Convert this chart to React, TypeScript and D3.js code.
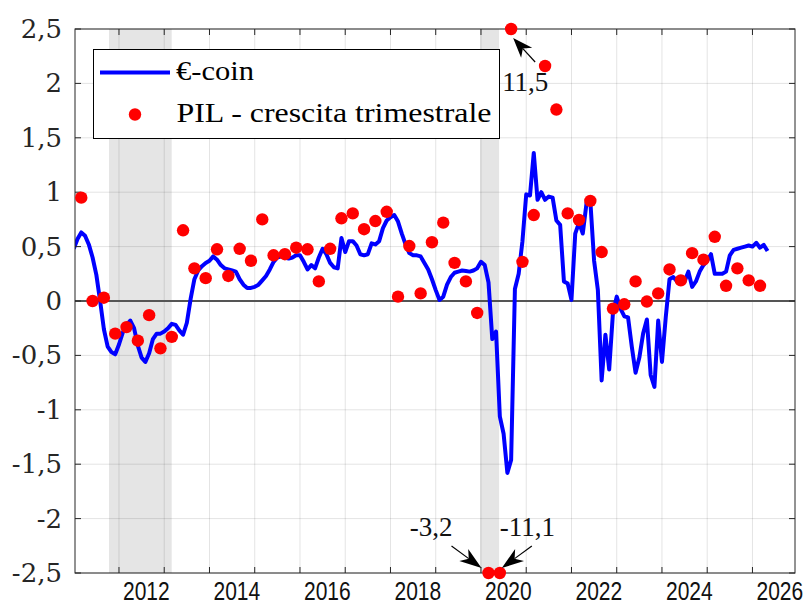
import { line, range, scaleLinear, select } from 'd3';
import { useEffect, useRef } from 'react';

// €-coin, monthly, first value = Jan 2011
const ecoinStart = 2011;
const ecoin = [
  0.48, 0.57, 0.63, 0.6, 0.52, 0.4, 0.24, 0.0, -0.26, -0.42,
  -0.47, -0.49, -0.4, -0.29, -0.22, -0.18, -0.25, -0.41, -0.52, -0.56,
  -0.48, -0.35, -0.3, -0.3, -0.28, -0.25, -0.21, -0.22, -0.27, -0.31,
  -0.2, 0.02, 0.2, 0.28, 0.32, 0.35, 0.37, 0.41, 0.38, 0.33,
  0.3, 0.29, 0.28, 0.27, 0.2, 0.15, 0.12, 0.12, 0.13, 0.15,
  0.19, 0.23, 0.29, 0.36, 0.4, 0.41, 0.4, 0.39, 0.4, 0.42,
  0.42, 0.36, 0.29, 0.33, 0.3, 0.4, 0.48, 0.43, 0.35, 0.31,
  0.3, 0.58, 0.45, 0.55, 0.55, 0.51, 0.43, 0.42, 0.43, 0.53,
  0.52, 0.55, 0.67, 0.74, 0.77, 0.79, 0.73, 0.62, 0.52, 0.44,
  0.42, 0.42, 0.41, 0.35, 0.29, 0.2, 0.1, 0.01, 0.04, 0.15,
  0.22, 0.26, 0.27, 0.28, 0.275, 0.27, 0.28, 0.3, 0.36, 0.33,
  0.17, -0.35, -0.28, -1.06, -1.22, -1.58, -1.46, 0.11, 0.25, 0.55,
  0.98, 0.97, 1.36, 0.93, 1.0, 0.93, 0.96, 0.95, 0.74, 0.7,
  0.18, 0.16, 0.01, 0.62, 0.72, 0.62, 0.9, 0.92, 0.37, 0.1,
  -0.73, -0.31, -0.63, -0.11, 0.04, -0.07, -0.14, -0.15, -0.42, -0.66,
  -0.52, -0.3, -0.17, -0.68, -0.79, -0.18, -0.56, -0.15, 0.2, 0.22,
  0.18, 0.16, 0.18, 0.27, 0.13, 0.18, 0.27, 0.33, 0.37, 0.43,
  0.25, 0.25, 0.25, 0.27, 0.42, 0.47, 0.48, 0.49, 0.5, 0.51,
  0.5, 0.535, 0.49, 0.515, 0.46,
];

// PIL q/q growth, quarterly, first value = 2011 Q1 (plotted at 3rd month)
const pilStart = 2011 + 2 / 12;
const pil = [
  0.95, 0.0, 0.03, -0.3,
  -0.24, -0.365, -0.13, -0.435,
  -0.33, 0.65, 0.3, 0.21,
  0.475, 0.23, 0.48, 0.37,
  0.75, 0.42, 0.43, 0.49,
  0.475, 0.18, 0.48, 0.76,
  0.805, 0.66, 0.735, 0.82,
  0.04, 0.505, 0.07, 0.54,
  0.72, 0.35, 0.18, -0.11,
  -3.2, -11.1, 11.5, 0.36,
  0.79, 2.16, 1.76, 0.805,
  0.745, 0.92, 0.45, -0.07,
  -0.03, 0.18, -0.005, 0.07,
  0.29, 0.19, 0.44, 0.38,
  0.59, 0.14, 0.3, 0.19,
  0.14,
];

const recessions = [
  [2011.78, 2013.165],
  [2019.98, 2020.4],
];

const yTicks = [-2.5, -2, -1.5, -1, -0.5, 0, 0.5, 1, 1.5, 2, 2.5];
const xTicks = range(2012, 2027);
const xLabels = [2012, 2014, 2016, 2018, 2020, 2022, 2024, 2026];

// out-of-range points that get a label
const outliers = [
  { index: 36, label: '-3,2' },
  { index: 37, label: '-11,1' },
  { index: 38, label: '11,5' },
];

const fmt = (v: number) => String(v).replace('.', ',');

export default function App() {
  const svgRef = useRef<SVGSVGElement>(null);

  useEffect(() => {
    if (!svgRef.current) return;
    const svg = select(svgRef.current);

    const left = 75;
    const right = 795;
    const top = 29;
    const bottom = 573;

    const x = scaleLinear().domain([2011.028, 2026.94]).range([left, right]);
    const y = scaleLinear().domain([-2.5, 2.5]).range([bottom, top]);
    const yc = (v: number) => y(Math.max(-2.5, Math.min(2.5, v)));

    const ink = '#262626';

    svg
      .append('defs')
      .append('clipPath')
      .attr('id', 'plot-clip')
      .append('rect')
      .attr('x', left)
      .attr('y', top)
      .attr('width', right - left)
      .attr('height', bottom - top);

    svg.append('rect').attr('width', 806).attr('height', 605).attr('fill', '#fff');

    // recession shading
    svg
      .append('g')
      .selectAll('rect')
      .data(recessions)
      .join('rect')
      .attr('x', (d) => x(d[0]))
      .attr('width', (d) => x(d[1]) - x(d[0]))
      .attr('y', top)
      .attr('height', bottom - top)
      .attr('fill', '#e5e5e5');

    // grid
    const grid = svg.append('g').attr('stroke', '#000').attr('stroke-opacity', 0.11);
    grid
      .selectAll('line.v')
      .data(xTicks)
      .join('line')
      .attr('class', 'v')
      .attr('x1', (d) => x(d))
      .attr('x2', (d) => x(d))
      .attr('y1', top)
      .attr('y2', bottom);
    grid
      .selectAll('line.h')
      .data(yTicks)
      .join('line')
      .attr('class', 'h')
      .attr('x1', left)
      .attr('x2', right)
      .attr('y1', (d) => y(d))
      .attr('y2', (d) => y(d));

    // zero line
    svg
      .append('line')
      .attr('x1', left)
      .attr('x2', right)
      .attr('y1', y(0))
      .attr('y2', y(0))
      .attr('stroke', '#555')
      .attr('stroke-width', 2);

    // €-coin line
    const ecoinLine = line<number>()
      .x((_, i) => x(ecoinStart + i / 12))
      .y((d) => y(d));

    svg
      .append('path')
      .datum(ecoin)
      .attr('clip-path', 'url(#plot-clip)')
      .attr('fill', 'none')
      .attr('stroke', '#0000ff')
      .attr('stroke-width', 4)
      .attr('stroke-linejoin', 'round')
      .attr('d', ecoinLine);

    // axes box + ticks
    const axes = svg.append('g').attr('stroke', ink).attr('stroke-width', 1);
    axes
      .append('rect')
      .attr('x', left)
      .attr('y', top)
      .attr('width', right - left)
      .attr('height', bottom - top)
      .attr('fill', 'none');
    yTicks.forEach((t) => {
      axes.append('line').attr('x1', left).attr('x2', left + 6).attr('y1', y(t)).attr('y2', y(t));
      axes.append('line').attr('x1', right - 6).attr('x2', right).attr('y1', y(t)).attr('y2', y(t));
    });
    xTicks.forEach((t) => {
      axes.append('line').attr('x1', x(t)).attr('x2', x(t)).attr('y1', top).attr('y2', top + 6);
      axes.append('line').attr('x1', x(t)).attr('x2', x(t)).attr('y1', bottom - 6).attr('y2', bottom);
    });

    // PIL dots
    svg
      .append('g')
      .selectAll('circle')
      .data(pil)
      .join('circle')
      .attr('cx', (_, i) => x(pilStart + i / 4))
      .attr('cy', (d) => yc(d))
      .attr('r', 6.2)
      .attr('fill', '#ff0000');

    // tick labels
    svg
      .append('g')
      .selectAll('text')
      .data(yTicks)
      .join('text')
      .attr('x', left - 13)
      .attr('y', (d) => y(d) + 9)
      .attr('text-anchor', 'end')
      .attr('font-family', '"DejaVu Serif", serif')
      .attr('font-size', 26)
      .attr('fill', ink)
      .text((d) => fmt(d));

    // year labels: narrow sans, stretched vertically like the original
    svg
      .append('g')
      .selectAll('text')
      .data(xLabels)
      .join('text')
      .attr('transform', (d) => `translate(${x(d) + 4},600) scale(1,1.25)`)
      .attr('font-family', '"Liberation Sans", Arial, sans-serif')
      .attr('font-size', 21)
      .attr('fill', '#111')
      .text((d) => String(d));

    // legend
    const lg = svg.append('g');
    lg.append('rect')
      .attr('x', 93.5)
      .attr('y', 49.5)
      .attr('width', 406)
      .attr('height', 89)
      .attr('fill', '#fff')
      .attr('stroke', '#000')
      .attr('stroke-width', 1);
    lg.append('line')
      .attr('x1', 100)
      .attr('x2', 170)
      .attr('y1', 72.5)
      .attr('y2', 72.5)
      .attr('stroke', '#0000ff')
      .attr('stroke-width', 4);
    lg.append('circle').attr('cx', 135).attr('cy', 114.5).attr('r', 6.2).attr('fill', '#ff0000');
    lg.append('text')
      .attr('x', 176)
      .attr('y', 79.5)
      .attr('font-family', '"Liberation Serif", serif')
      .attr('font-size', 27)
      .attr('textLength', 78)
      .attr('lengthAdjust', 'spacingAndGlyphs')
      .attr('fill', '#000')
      .text('€-coin');
    lg.append('text')
      .attr('x', 176.5)
      .attr('y', 121.7)
      .attr('font-family', '"Liberation Serif", serif')
      .attr('font-size', 27)
      .attr('textLength', 315)
      .attr('lengthAdjust', 'spacingAndGlyphs')
      .attr('fill', '#000')
      .text('PIL - crescita trimestrale');

    // annotations for out-of-range points
    const arrow = (tx: number, ty: number, sx: number, sy: number, hl: number, hw: number) => {
      const len = Math.hypot(tx - sx, ty - sy);
      const ux = (tx - sx) / len;
      const uy = (ty - sy) / len;
      const nx = -uy;
      const ny = ux;
      const bx = tx - ux * hl;
      const by = ty - uy * hl;
      const kx = tx - ux * hl * 0.72;
      const ky = ty - uy * hl * 0.72;
      const g = svg.append('g');
      g.append('line')
        .attr('x1', sx)
        .attr('y1', sy)
        .attr('x2', kx)
        .attr('y2', ky)
        .attr('stroke', '#000')
        .attr('stroke-width', 1.2);
      g.append('path')
        .attr(
          'd',
          `M${tx},${ty}L${bx + (nx * hw) / 2},${by + (ny * hw) / 2}L${kx},${ky}L${bx - (nx * hw) / 2},${by - (ny * hw) / 2}Z`,
        )
        .attr('fill', '#000');
    };

    const annFont = '"Liberation Serif", serif';
    outliers.forEach((o) => {
      const px = x(pilStart + o.index / 4);
      const py = yc(pil[o.index]);
      const t = svg
        .append('text')
        .attr('font-family', annFont)
        .attr('font-size', 27)
        .attr('fill', '#111')
        .text(o.label);
      if (pil[o.index] > 2.5) {
        arrow(px + 2, py + 9, px + 24, py + 33, 20, 15);
        t.attr('x', px - 9).attr('y', py + 62);
      } else if (o.index === 36) {
        arrow(px - 7, py - 5, px - 37, py - 27, 22, 15);
        t.attr('x', px - 36).attr('y', py - 37).attr('text-anchor', 'end');
      } else {
        arrow(px + 2, py - 5, px + 32, py - 27, 22, 15);
        t.attr('x', px).attr('y', py - 37);
      }
    });

    return () => {
      svg.selectAll('*').remove();
    };
  }, []);

  return (
    <svg
      ref={svgRef}
      width={806}
      height={605}
      style={{ position: 'absolute', left: 0, top: 0, display: 'block' }}
    />
  );
}
